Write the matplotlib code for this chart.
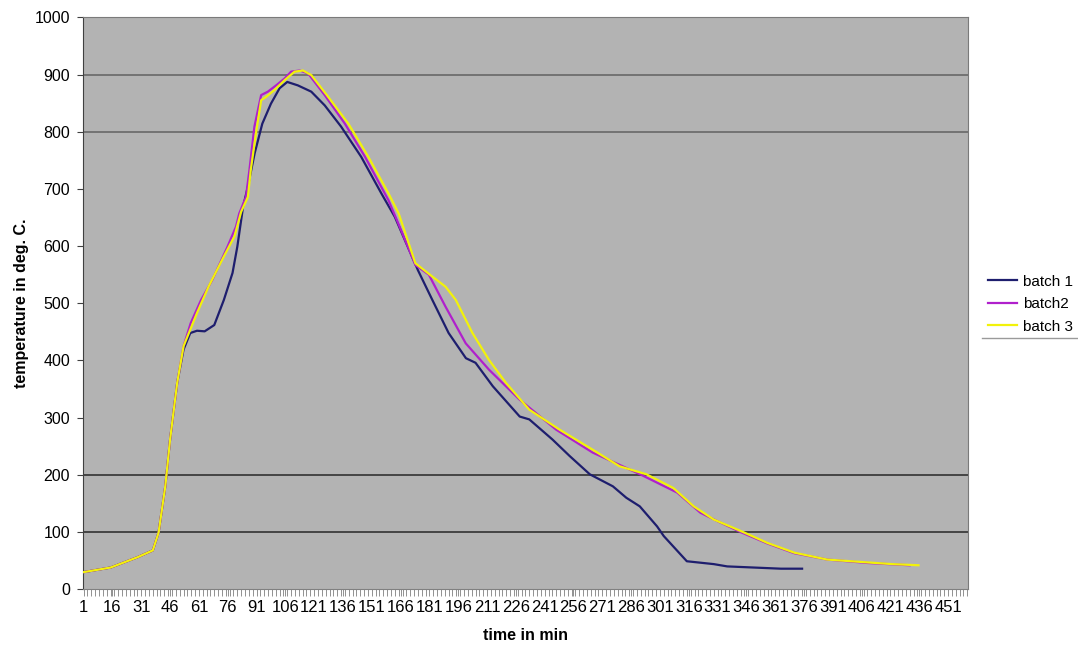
import matplotlib
matplotlib.use("Agg")
import matplotlib.pyplot as plt
from matplotlib.lines import Line2D

# batch 1 (minute, temperature)
t1 = [1, 15, 29, 37, 40, 43.5, 46, 49.7, 53, 56.5, 60, 64, 69, 74, 78.5, 81, 84, 86.5, 90, 94,
      98.5, 103, 107, 112.5, 119.5, 126.5, 135, 145.5, 156, 163, 175, 182.5, 191, 200, 205, 214,
      228, 233, 245, 254, 264.5, 276.5, 283.5, 290.5, 299.5, 303, 315, 329, 336, 350, 364, 375]
v1 = [30, 38, 56, 68, 99, 180, 262, 361, 419, 448, 452, 451, 462, 506, 553, 599, 669, 704, 762, 814,
      849, 876, 887, 881, 870, 846, 809, 756, 692, 651, 558, 506, 448, 404, 396, 355,
      302, 297, 262, 233, 201, 180, 160, 145, 110, 93, 49, 44, 40, 38, 36, 36]

# batch2
t2 = [1, 15, 29, 37, 40, 43.5, 46, 49.7, 53, 56.7, 62, 68, 75.9, 80.3, 82, 85.5, 87.3, 89.9, 93.4,
      96.9, 101.2, 105.6, 109, 113.5, 117.8, 126.5, 137, 147.5, 159.7, 164, 173.7, 180.7, 189.4,
      199.9, 212, 227.8, 247, 266, 290.7, 310, 322, 331, 343, 357, 371, 388, 409, 431]
v2 = [30, 38, 56, 68, 99, 180, 262, 361, 425, 465, 505, 541, 599, 634, 657, 686, 733, 809, 864,
      870, 881, 893, 905, 907, 902, 864, 814, 756, 680, 646, 567, 550, 494,
      430, 384, 332, 279, 239, 201, 169, 134, 119, 100, 80, 63, 52, 46, 42]

# batch 3
t3 = [1, 15, 29, 37, 40, 43.5, 46, 49.7, 53, 60, 66, 74, 79.5, 83, 86.5, 88, 90.7, 93.4, 96, 100.4,
      105.6, 110.8, 115.2, 119.5, 128.3, 138.8, 149.2, 159.7, 165, 173.7, 182.4, 189.4, 194.7,
      203.4, 212, 220.8, 233, 248.8, 266, 280, 294, 308, 318.6, 329, 343, 357, 371, 388, 409, 422, 435.6]
v3 = [30, 38, 56, 68, 99, 180, 262, 361, 425, 483, 529, 582, 617, 660, 686, 733, 797, 855, 861, 873,
      890, 905, 907, 899, 861, 814, 756, 692, 657, 570, 547, 529, 506,
      448, 401, 361, 314, 279, 244, 215, 201, 177, 145, 122, 102, 81, 64, 52, 47, 44, 42]

labels = ["batch 1", "batch2", "batch 3"]
colors = ["#1e1e6e", "#b020cc", "#f2f20a"]
x_ticks = list(range(1, 452, 15))
y_ticks = list(range(0, 1001, 100))
grid_vals = [100, 200, 800, 900]

plt.rcParams['font.family'] = ['Liberation Sans', 'DejaVu Sans']

fig = plt.figure(figsize=(10.78, 6.46), dpi=100)
ax = fig.add_axes([0.0767, 0.0878, 0.8215, 0.8854])
ax.set_facecolor("#b3b3b3")

for g in grid_vals:
    c = "#3c3c3c" if g < 500 else "#6e6e6e"
    ax.axhline(g, color=c, lw=1.3, zorder=1)

handles = []
for t, v, lab, col in zip([t1, t2, t3], [v1, v2, v3], labels, colors):
    h, = ax.plot(t, v, color=col, lw=1.6, label=lab, zorder=3)
    handles.append(h)

ax.set_xlim(0.5, 461.5)
ax.set_ylim(0, 1000)
ax.set_xticks(x_ticks)
ax.set_xticklabels([str(x) for x in x_ticks], fontsize=12)
ax.set_xticks(list(range(1, 462, 2)), minor=True)
ax.set_yticks(y_ticks)
ax.set_yticklabels([str(y) for y in y_ticks], fontsize=11.5)
ax.tick_params(axis="x", which="both", length=5, width=0.6, color="#808080", pad=3)
ax.tick_params(axis="y", length=4, width=0.8, color="#404040", pad=5)

ax.spines["left"].set_color("#404040")
ax.spines["bottom"].set_color("#808080")
ax.spines["top"].set_color("#7a7a7a")
ax.spines["right"].set_color("#7a7a7a")

ax.set_xlabel("time in min", fontsize=11.5, fontweight="bold", labelpad=9)
ax.set_ylabel("temperature in deg. C.", fontsize=11.5, fontweight="bold", labelpad=4)

fig.legend(handles=handles, labels=labels, loc="upper left", bbox_to_anchor=(0.904, 0.596),
           frameon=False, fontsize=11, handlelength=1.9, handletextpad=0.35, labelspacing=0.55)
fig.add_artist(Line2D([0.911, 1.0], [0.477, 0.477], color="#9a9a9a", lw=1.0))

fig.savefig("out.png", dpi=100)
